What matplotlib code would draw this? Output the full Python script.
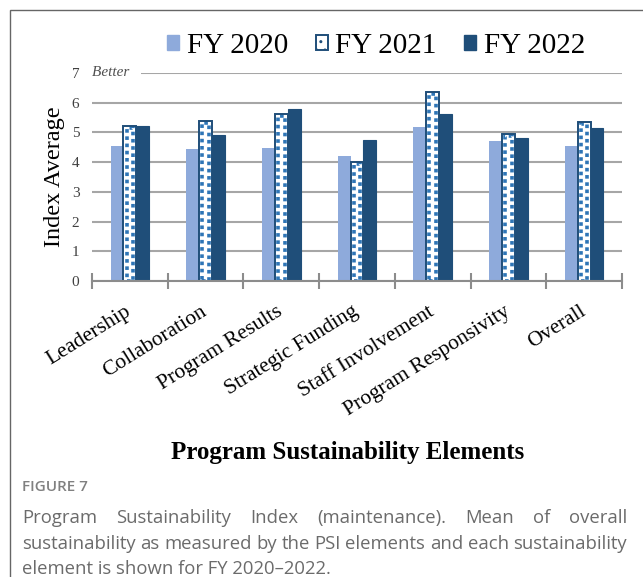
import matplotlib.pyplot as plt
import matplotlib.patches as mpatches
import numpy as np

categories = ["Leadership", "Collaboration", "Program Results", "Strategic Funding",
              "Staff Involvement", "Program Responsivity", "Overall"]
fy2020 = [4.53, 4.45, 4.46, 4.21, 5.17, 4.70, 4.56]
fy2021 = [5.21, 5.39, 5.61, 4.01, 6.35, 4.96, 5.34]
fy2022 = [5.22, 4.93, 5.78, 4.74, 5.61, 4.81, 5.16]
series_names = ["FY 2020", "FY 2021", "FY 2022"]
yticks = [0, 1, 2, 3, 4, 5, 6, 7]

light = "#8eaadb"
dark = "#1f4e79"
mid = "#2e75b6"
serif = "Liberation Serif"

fig = plt.figure(figsize=(6.43, 5.77), dpi=100)
W, H = 643, 577

# panel frame (cut off at right/bottom like the source page)
fig.patches.append(mpatches.Rectangle((10 / W, -0.1), 1.2, 1 - 10 / H + 0.1,
                                      transform=fig.transFigure, fill=False,
                                      edgecolor="#666666", lw=1.0))

ax = fig.add_axes([92 / W, 1 - 281 / H, (622 - 92) / W, (281 - 73) / H])

x = np.arange(len(categories))
w = 0.17
ax.bar(x - w, fy2020, w, color=light, zorder=2)
ax.bar(x, fy2021, w, color="white", zorder=2)
# checker-like fill of FY 2021 bars
ax.bar(x, np.array(fy2021) - 0.07, w * 0.5, fill=False, edgecolor=mid,
       lw=2.6, linestyle=(0, (1, 1)), zorder=3)
ax.bar(x, fy2021, w, fill=False, edgecolor=dark, lw=1.4, zorder=4)
ax.bar(x + w, fy2022, w, color=dark, edgecolor=dark, lw=0.8, zorder=2)

ax.set_xlim(-0.5, len(categories) - 0.5)
ax.set_ylim(0, 7)
ax.set_yticks(yticks)
ax.yaxis.grid(True, color="#a6a6a6", lw=1.5, zorder=0)
ax.set_axisbelow(True)
for s in ["left", "right", "top"]:
    ax.spines[s].set_visible(False)
ax.spines["bottom"].set_color("#8c8c8c")
ax.spines["bottom"].set_linewidth(1.5)
ax.spines["bottom"].set_zorder(5)

ax.set_xticks(np.arange(len(categories) + 1) - 0.5)
ax.set_xticklabels([])
ax.tick_params(axis="x", which="major", direction="inout", length=11, width=1.5, color="#8c8c8c")
ax.set_xticks(x, minor=True)
ax.set_xticklabels(categories, minor=True, rotation=32, ha="right", va="center",
                   rotation_mode="anchor", fontfamily=serif, fontsize=15.5)
ax.tick_params(axis="x", which="minor", length=0, pad=21)
ax.tick_params(axis="y", length=0, pad=9, labelsize=11, labelcolor="#404040")
for t in ax.get_yticklabels():
    t.set_fontfamily(serif)

ax.text(-0.5, 7, "Better   ", ha="left", va="center", fontfamily=serif, style="italic",
        fontsize=11, color="#505050",
        bbox=dict(facecolor="white", edgecolor="none", pad=0))

ax.set_ylabel("Index Average", fontfamily=serif, fontsize=17.5, labelpad=5)

# legend
h1 = mpatches.Patch(color=light)
h2 = mpatches.Patch(facecolor="white", edgecolor=dark, lw=1.4, hatch="..")
h3 = mpatches.Patch(color=dark)
fig.legend([h1, h2, h3], series_names, loc="center", bbox_to_anchor=(376 / W, 1 - 46 / H),
           ncol=3, frameon=False, prop={"family": serif, "size": 21},
           handlelength=0.42, handleheight=0.42, handletextpad=0.25, columnspacing=0.95)

fig.text(348 / W, 1 - 452 / H, "Program Sustainability Elements", ha="center", va="center",
         fontfamily=serif, fontweight="bold", fontsize=18)

# caption
cap_color = "#6b6b6b"
cap_size = 13.3
fig.text(22 / W, 1 - 487 / H, "FIGURE 7", ha="left", va="center", fontfamily="Open Sans",
         fontsize=11, fontweight="semibold", color="#808080")

line1 = "Program Sustainability Index (maintenance). Mean of overall".split()
line2 = "sustainability as measured by the PSI elements and each sustainability".split()
line3 = "element is shown for FY 2020\u20132022."
left, right = 22, 627

fig.canvas.draw()
renderer = fig.canvas.get_renderer()


def justify(words, ypix):
    arts = [fig.text(0, 1 - ypix / H, wd, ha="left", va="center", fontfamily="Open Sans",
                     fontsize=cap_size, color=cap_color) for wd in words]
    widths = [a.get_window_extent(renderer).width for a in arts]
    gap = (right - left - sum(widths)) / (len(words) - 1)
    pos = left
    for a, wd in zip(arts, widths):
        a.set_x(pos / W)
        pos += wd + gap


justify(line1, 518)
justify(line2, 544)
fig.text(left / W, 1 - 569 / H, line3, ha="left", va="center", fontfamily="Open Sans",
         fontsize=cap_size, color=cap_color)

fig.savefig("out.png", dpi=100)
